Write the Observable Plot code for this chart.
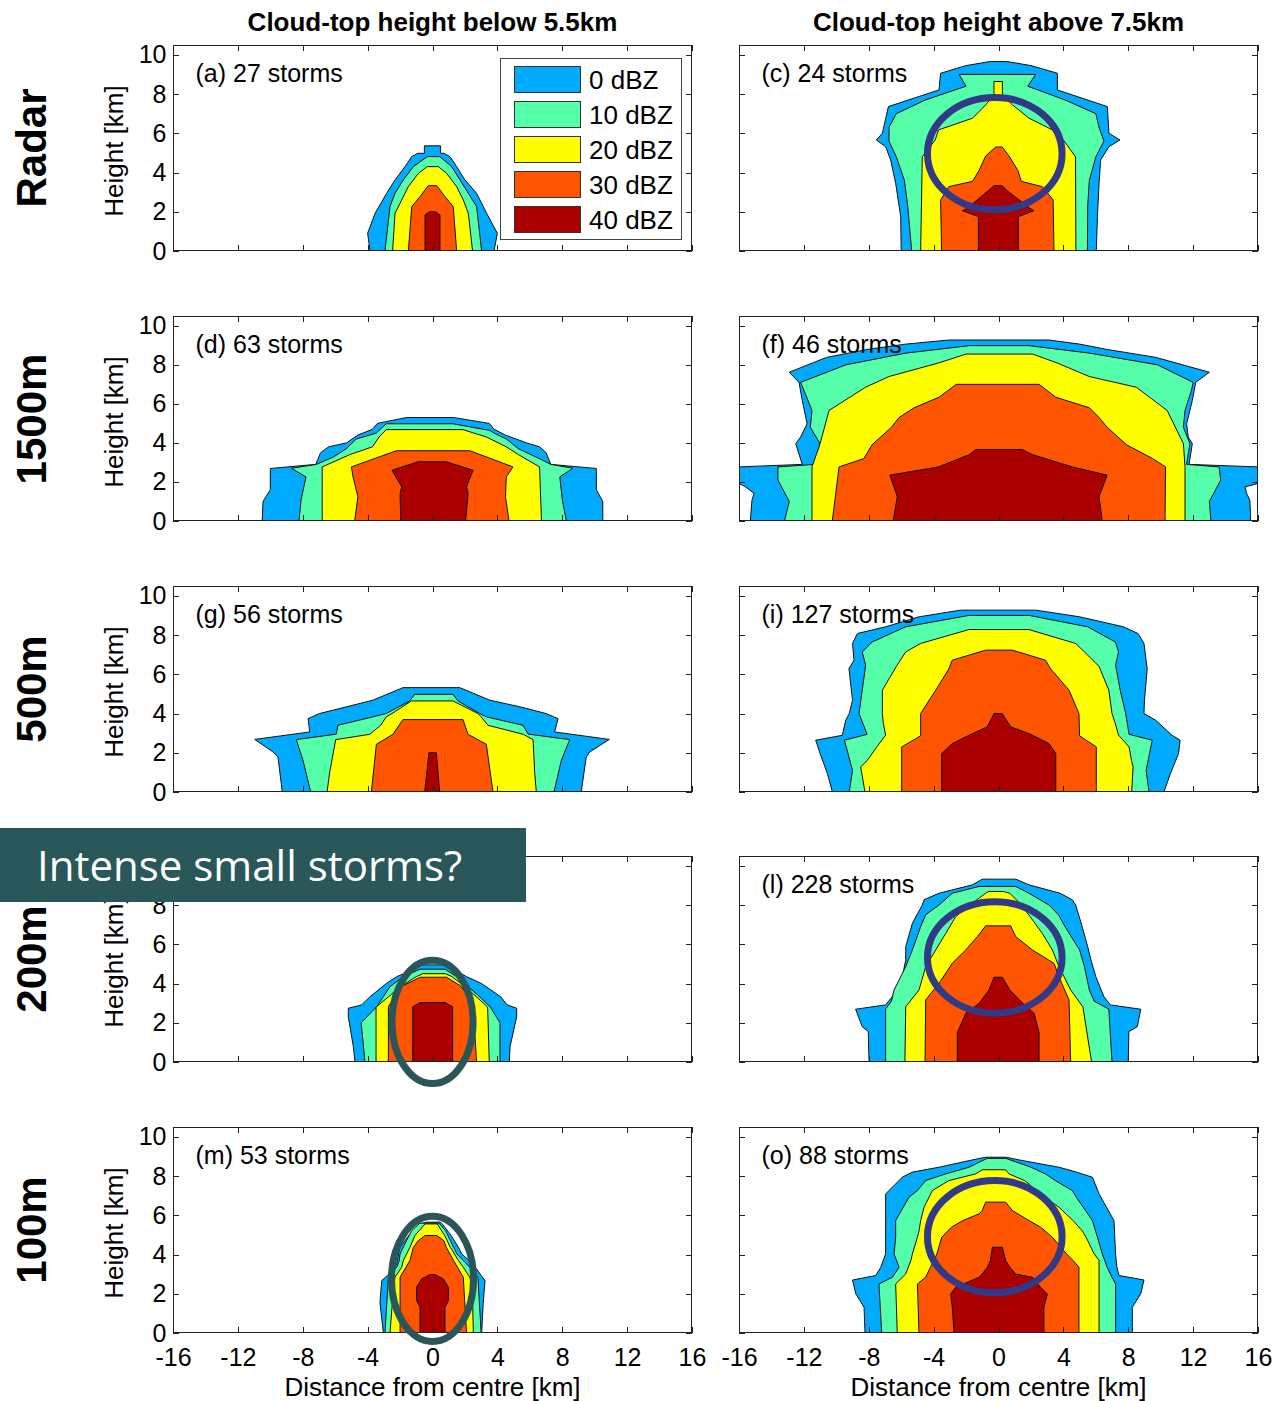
<!DOCTYPE html>
<html><head><meta charset="utf-8">
<script src="https://cdn.jsdelivr.net/npm/d3@7"></script>
<script src="https://cdn.jsdelivr.net/npm/@observablehq/plot@0.6"></script>
<style>
body{margin:0;background:#fff;}
#root{position:relative;width:1276px;height:1401px;overflow:hidden;font-family:"Liberation Sans",Arial,sans-serif;color:#000;}
.abs{position:absolute;white-space:nowrap;}
.rot{transform:translate(-50%,-50%) rotate(-90deg);}
.ctr{transform:translate(-50%,-50%);}
</style></head><body><div id="root"></div>
<script>
// ---------- data ----------
const levels = ["0 dBZ","10 dBZ","20 dBZ","30 dBZ","40 dBZ"];
const levelColors = ["#00aaff","#55ffaa","#ffff00","#ff5500","#aa0000"];
const columnTitles = ["Cloud-top height below 5.5km","Cloud-top height above 7.5km"];
const rowLabels = ["Radar","1500m","500m","200m","100m"];
const xTicks = [-16,-12,-8,-4,0,4,8,12,16];
const yTicks = [0,2,4,6,8,10];
const panelLabels = ["(a) 27 storms","(c) 24 storms","(d) 63 storms","(f) 46 storms","(g) 56 storms","(i) 127 storms","","(l) 228 storms","(m) 53 storms","(o) 88 storms"];
const yLabel = "Height [km]";
const xLabel = "Distance from centre [km]";
const boxText = "Intense small storms?";

// each contour: [height km, left edge km, right edge km], levels 0,10,20,30,40 dBZ
const panelA = [
  [[0,-3.85,3.79],[0.9,-4.0,4.0],[1.92,-3.54,3.34],[2.94,-2.83,2.72],[3.62,-2.31,2.0],[4.3,-1.7,1.49],[4.81,-1.28,1.08],[4.98,-0.9,0.7],[4.98,-0.5,0.5],[5.36,-0.5,0.5]],
  [[0,-2.93,3.03],[2.26,-2.62,2.72],[2.94,-2.31,2.21],[3.62,-1.8,1.7],[4.3,-1.18,1.18],[4.81,-0.32,0.46]],
  [[0,-2.46,2.47],[1.92,-2.31,2.21],[2.6,-1.9,1.9],[3.28,-1.49,1.49],[3.96,-0.87,0.87],[4.3,-0.32,0.36]],
  [[0,-1.49,1.49],[2.26,-1.28,1.28],[2.77,-0.77,0.77],[3.33,-0.26,0.26]],
  [[0,-0.46,0.46],[1.84,-0.46,0.46],[2.0,-0.2,0.2]]
];
const panelC = [
  [[0,-6.0,6.03],[1.75,-6.03,6.1],[3.45,-6.34,6.2],[4.64,-6.65,6.3],[5.32,-6.96,6.81],[5.66,-7.53,7.49],[6.0,-7.16,6.81],[7.36,-6.79,6.71],[8.21,-3.67,3.63],[9.06,-3.57,3.63],[9.45,-2.0,2.0],[9.66,-0.5,0.5]],
  [[0,-5.35,5.48],[2.3,-5.6,5.5],[3.6,-5.8,5.6],[4.8,-6.3,6.0],[5.6,-6.75,6.5],[6.3,-6.75,6.2],[7.0,-6.3,6.0],[7.7,-4.5,4.1],[8.4,-2.0,1.8],[9.0,-2.43,2.29]],
  [[0,-4.8,4.77],[4.8,-4.7,4.75],[5.66,-3.9,4.0],[6.17,-3.7,3.33],[6.77,-1.6,1.88],[7.45,-0.79,0.86],[7.96,-0.28,0.24],[8.64,-0.28,0.24]],
  [[0,-3.51,3.42],[2.6,-3.57,3.37],[3.28,-3.06,2.7],[3.55,-1.6,1.4],[4.1,-1.2,1.2],[4.84,-0.79,0.65],[5.3,-0.17,0.23]],
  [[0,-1.24,1.22],[1.75,-1.24,1.22],[2.05,-2.22,2.18],[2.2,-1.9,1.9],[3.1,-0.6,0.5],[3.33,-0.27,0.23]]
];
const panelD = [
  [[0,-10.5,10.5],[1.0,-10.45,10.5],[1.6,-10.0,10.1],[2.69,-10.0,10.1],[2.9,-7.2,7.3],[3.5,-6.9,7.0],[3.8,-6.4,6.6],[4.0,-5.3,5.8],[4.4,-4.6,4.5],[4.7,-3.7,3.8],[5.0,-3.4,3.5],[5.3,-1.6,1.3]],
  [[0,-8.23,8.25],[1.1,-8.1,8.0],[2.26,-7.8,7.85],[2.7,-8.7,8.66],[2.9,-7.16,7.3],[3.27,-6.13,6.4],[3.7,-5.31,5.3],[4.2,-4.7,4.55],[4.5,-3.47,3.8],[4.64,-3.3,3.53],[4.98,-2.85,1.26]],
  [[0,-6.8,6.72],[2.77,-6.8,6.6],[3.4,-5.1,5.3],[3.8,-3.7,4.55],[4.3,-3.3,3.33],[4.68,-2.85,1.88]],
  [[0,-4.8,4.72],[1.25,-4.6,4.5],[2.26,-4.9,4.55],[2.77,-5.0,4.96],[3.6,-2.23,2.3]],
  [[0,-1.96,2.04],[1.4,-2.0,2.2],[1.75,-1.9,2.1],[2.6,-2.5,2.5],[3.03,-0.89,0.86]]
];
const panelF = [
  [[0,-15.3,15.55],[1.07,-15.2,15.5],[1.41,-15.07,15.3],[1.75,-15.6,15.2],[1.92,-16,16],[2.77,-16,16],[2.9,-12.1,11.75],[3.96,-12.5,11.95],[4.3,-12.2,11.7],[4.98,-11.8,11.6],[6.17,-12.1,11.95],[7.1,-12.3,12.16],[7.62,-12.9,13.0],[8.38,-10.6,9.7],[8.8,-8.0,6.6],[9.06,-5.72,5.0],[9.27,-3.05,3.11]],
  [[0,-13.2,13.1],[1.0,-12.9,13.0],[2.1,-13.6,13.7],[2.77,-13.6,13.6],[2.9,-11.3,11.6],[3.96,-11.0,11.8],[4.8,-11.6,11.4],[5.66,-11.5,11.5],[6.7,-12.0,11.9],[7.1,-12.2,12.0],[8.0,-9.4,9.8],[8.6,-5.7,5.6],[8.98,-1.8,1.88]],
  [[0,-11.5,11.5],[2.77,-11.5,11.5],[3.96,-11.0,11.4],[5.66,-10.45,10.4],[6.85,-8.2,8.5],[7.4,-6.75,5.6],[8.1,-3.67,3.6],[8.55,-2.0,2.1]],
  [[0,-10.25,10.27],[2.77,-9.83,10.3],[3.2,-8.3,9.5],[3.9,-7.8,7.9],[4.8,-6.6,6.7],[5.3,-6.13,6.2],[5.8,-5.2,5.6],[6.34,-3.67,3.53],[7.0,-2.6,2.5]],
  [[0,-6.5,6.4],[1.25,-6.24,6.2],[2.35,-6.7,6.7],[2.77,-3.7,4.55],[3.4,-1.8,2.1],[3.66,-1.4,1.47]]
];
const panelG = [
  [[0,-9.26,9.17],[1.79,-9.53,9.48],[2.04,-9.83,9.69],[2.68,-10.96,10.9],[3.06,-7.57,7.53],[3.74,-7.67,7.74],[4.0,-6.96,7.0],[4.34,-5.31,5.4],[4.68,-3.67,3.53],[5.32,-1.82,1.68]],
  [[0,-7.51,7.49],[1.6,-7.98,7.94],[2.67,-8.4,8.46],[2.95,-5.93,5.9],[3.4,-5.83,5.58],[3.83,-3.67,3.32],[4.0,-2.85,2.9],[4.64,-1.41,1.57],[4.98,-1.1,1.26]],
  [[0,-6.5,6.4],[1.0,-6.34,6.3],[2.67,-5.97,6.2],[2.94,-3.87,5.6],[3.4,-3.2,3.42],[3.83,-2.85,3.0],[4.0,-2.5,2.8],[4.64,-1.3,1.26]],
  [[0,-3.77,3.73],[2.43,-3.46,3.32],[2.94,-2.44,2.19],[3.69,-1.82,1.88]],
  [[0,-0.48,0.44],[2.0,-0.22,0.24]]
];
const panelI = [
  [[0,-10.24,10.2],[0.94,-10.55,10.6],[1.96,-11.0,11.1],[2.64,-11.27,11.2],[2.89,-9.63,10.7],[3.66,-9.42,9.69],[4.0,-9.2,8.97],[4.68,-9.0,9.0],[6.29,-9.22,9.17],[6.72,-8.91,9.1],[7.57,-9.0,8.97],[8.08,-8.7,8.6],[8.42,-6.96,7.7],[8.93,-4.9,5.0],[9.27,-2.33,2.29]],
  [[0,-9.2,9.28],[1.1,-9.0,9.1],[2.64,-9.5,9.48],[2.94,-8.1,8.05],[4.0,-8.6,7.84],[5.2,-8.4,7.5],[6.46,-8.19,7.22],[7.14,-8.4,7.4],[7.65,-7.78,7.2],[8.42,-5.72,5.5],[9.0,-1.82,1.88]],
  [[0,-8.23,8.21],[1.28,-8.5,8.3],[1.6,-8.1,8.2],[2.3,-7.5,8.05],[2.9,-6.96,7.4],[3.49,-7.1,7.2],[4.0,-7.16,7.0],[5.19,-7.16,6.8],[6.4,-6.3,6.2],[7.14,-5.72,5.3],[7.57,-4.8,4.76],[8.28,-1.82,1.88]],
  [[0,-5.97,6.03],[2.3,-5.97,6.03],[2.86,-4.8,5.0],[4.0,-4.8,4.96],[5.19,-3.87,4.35],[6.29,-3.05,3.2],[6.72,-2.85,2.9],[7.23,-0.79,0.85]],
  [[0,-3.5,3.53],[1.96,-3.5,3.53],[2.47,-2.85,3.11],[2.98,-1.6,1.88],[3.32,-0.69,0.75],[4.0,-0.28,0.23]]
];
const panelJ = [
  [[0,-4.78,4.74],[0.78,-4.88,4.78],[2.31,-5.19,5.19],[2.74,-5.19,5.19],[2.91,-4.37,4.6],[3.33,-3.85,4.2],[4.01,-2.83,3.0],[4.35,-2.21,2.1],[4.78,-0.98,1.2],[4.95,-0.98,0.87]],
  [[0,-4.16,4.16],[2.0,-4.4,4.16],[2.82,-3.44,3.55],[3.33,-3.03,2.9],[3.84,-2.62,2.2],[4.35,-1.8,1.49],[4.73,-0.77,0.77]],
  [[0,-3.48,3.5],[2.8,-3.48,3.4],[3.33,-2.7,2.7],[3.84,-2.0,2.0],[4.35,-1.0,1.2],[4.5,-0.6,0.8]],
  [[0,-2.72,2.72],[2.82,-2.72,2.5],[3.5,-2.2,2.1],[3.9,-1.8,1.7],[4.32,-0.75,0.87]],
  [[0,-1.22,1.24],[2.82,-1.22,1.24],[3.03,-0.77,0.77]]
];
const panelL = [
  [[0,-7.98,8.0],[1.55,-8.03,8.04],[1.8,-8.4,8.56],[2.69,-8.81,8.77],[2.91,-6.96,6.9],[3.33,-6.55,6.5],[4.35,-5.93,6.0],[5.2,-5.72,5.7],[5.88,-5.72,5.5],[7.07,-5.31,5.1],[8.0,-4.7,4.76],[8.27,-4.59,4.55],[8.6,-3.67,3.8],[9.03,-1.61,1.88],[9.32,-1.0,1.06]],
  [[0,-6.96,7.0],[2.7,-6.96,6.8],[3.1,-6.6,5.9],[3.67,-6.44,5.6],[4.86,-5.72,5.3],[5.71,-5.31,5.0],[6.9,-4.8,4.1],[7.5,-4.49,3.7],[8.0,-3.67,3.11],[8.6,-2.85,1.88],[8.95,-1.2,1.06]],
  [[0,-5.77,5.74],[2.82,-5.72,5.2],[3.67,-4.9,4.45],[4.86,-4.49,3.73],[5.71,-3.87,3.32],[6.56,-3.25,2.7],[7.41,-2.64,1.95],[8.1,-1.61,1.3],[8.6,-0.79,0.7],[8.69,-0.6,0.3]],
  [[0,-4.53,4.45],[3.16,-4.49,4.35],[4.01,-3.67,3.9],[5.03,-2.85,3.42],[5.71,-2.02,2.09],[6.39,-1.3,1.06],[6.94,-0.79,0.75]],
  [[0,-2.54,2.5],[1.5,-2.54,2.5],[2.48,-2.02,2.2],[2.99,-1.2,1.5],[3.67,-0.59,0.7],[4.32,-0.28,0.24]]
];
const panelM = [
  [[0,-3.03,3.03],[1.56,-3.24,3.13],[2.67,-3.13,3.24],[2.93,-2.78,3.0],[3.52,-2.21,2.5],[4.03,-2.1,1.8],[4.37,-2.0,1.6],[5.05,-1.39,1.08],[5.56,-0.77,0.6],[5.65,-0.36,0.46]],
  [[0,-2.93,3.0],[2.84,-2.72,2.8],[3.35,-2.21,2.3],[3.69,-2.05,1.9],[4.03,-2.0,1.5],[4.71,-1.6,1.1],[5.22,-1.28,0.8],[5.6,-0.77,0.4]],
  [[0,-2.62,2.52],[2.33,-2.4,2.45],[2.84,-2.31,2.3],[3.35,-1.9,1.9],[3.69,-1.8,1.6],[4.37,-1.39,1.1],[4.97,-1.08,0.75],[5.56,-0.46,0.3]],
  [[0,-2.0,2.1],[2.84,-2.0,1.9],[3.69,-1.39,1.3],[4.37,-1.18,0.85],[4.71,-0.87,0.7],[4.97,-0.46,0.26]],
  [[0,-0.77,0.77],[1.31,-0.77,0.77],[1.65,-0.98,0.98],[2.33,-0.98,0.98],[2.76,-0.67,0.67],[2.98,-0.15,0.15]]
];
const panelO = [
  [[0,-8.23,8.25],[1.31,-8.29,8.25],[2.0,-8.8,8.77],[2.7,-9.0,8.97],[2.93,-7.57,7.43],[3.35,-7.26,7.3],[4.03,-6.96,7.22],[5.73,-6.96,7.12],[7.09,-6.96,6.2],[7.94,-5.93,5.79],[8.2,-5.31,4.8],[8.45,-3.67,3.73],[8.79,-1.8,1.47],[8.96,-0.79,0.44]],
  [[0,-7.2,7.22],[2.5,-7.37,7.22],[2.84,-6.54,7.0],[3.35,-6.13,6.7],[4.03,-6.44,6.4],[4.88,-6.34,6.1],[5.73,-6.34,5.79],[6.92,-5.52,4.8],[7.26,-5.0,4.55],[7.77,-4.49,3.5],[8.11,-3.25,2.9],[8.45,-1.82,2.0],[8.9,-0.7,0.45]],
  [[0,-6.24,6.2],[2.5,-6.34,6.2],[3.01,-5.72,6.2],[3.7,-5.4,6.2],[4.03,-5.31,5.9],[4.88,-5.0,5.4],[5.2,-4.9,5.17],[5.73,-4.8,4.6],[6.41,-4.59,3.73],[7.26,-4.08,2.3],[7.6,-3.4,1.88],[7.77,-3.05,1.6],[8.11,-1.41,0.65],[8.32,-1.0,0.44]],
  [[0,-4.9,4.96],[2.5,-5.0,4.96],[2.84,-4.49,4.96],[3.35,-4.2,4.96],[3.69,-3.97,4.6],[4.03,-3.8,4.2],[4.88,-3.5,3.32],[5.39,-2.9,2.6],[5.73,-2.2,1.88],[6.07,-1.2,1.2],[6.24,-1.0,0.85],[6.67,-0.79,0.44]],
  [[0,-2.74,2.8],[1.31,-2.85,2.8],[1.99,-2.95,3.01],[2.33,-2.64,2.6],[2.84,-1.2,2.09],[3.01,-1.0,1.06],[3.35,-0.69,0.7],[3.69,-0.5,0.44],[4.37,-0.38,0.24]]
];
// highlight ellipses: [centre x km, centre height km, x radius km, height radius km]
const ellipseC = [-0.23, 4.96, 4.15, 2.86];
const ellipseJ = [0, 2.04, 2.5, 3.14];
const ellipseL = [-0.23, 5.33, 4.15, 2.84];
const ellipseM = [0, 2.76, 2.53, 3.19];
const ellipseO = [-0.23, 4.91, 4.15, 2.86];

// ---------- layout ----------
const root = document.getElementById("root");
const colLeft = [173, 739];
const rowTop = [45, 316, 586, 856, 1127];
const rowH = [206, 205, 206, 206, 206];
const frameW = 519;
const ML = 110, MR = 30, MT = 20, MB = 80;
const blueEllipse = "#323a87", tealEllipse = "#2a5659";

const panels = [
  {data: panelA, row: 0, col: 0, label: panelLabels[0], ell: null},
  {data: panelC, row: 0, col: 1, label: panelLabels[1], ell: ellipseC, ec: blueEllipse},
  {data: panelD, row: 1, col: 0, label: panelLabels[2], ell: null},
  {data: panelF, row: 1, col: 1, label: panelLabels[3], ell: null},
  {data: panelG, row: 2, col: 0, label: panelLabels[4], ell: null},
  {data: panelI, row: 2, col: 1, label: panelLabels[5], ell: null},
  {data: panelJ, row: 3, col: 0, label: panelLabels[6], ell: ellipseJ, ec: tealEllipse, hideTop: true},
  {data: panelL, row: 3, col: 1, label: panelLabels[7], ell: ellipseL, ec: blueEllipse},
  {data: panelM, row: 4, col: 0, label: panelLabels[8], ell: ellipseM, ec: tealEllipse},
  {data: panelO, row: 4, col: 1, label: panelLabels[9], ell: ellipseO, ec: blueEllipse}
];

function frameTicks(index, scales, values, dims) {
  const g = d3.create("svg:g").attr("fill", "none").attr("stroke", "#222").attr("stroke-width", 1);
  const l = dims.marginLeft, r = dims.width - dims.marginRight, t = dims.marginTop, b = dims.height - dims.marginBottom;
  const L = 6;
  for (const v of xTicks) {
    const px = Math.round(scales.x(v)) + 0.5;
    g.append("path").attr("d", `M${px},${b}v${-L}M${px},${t}v${L}`);
  }
  for (const v of yTicks) {
    const py = Math.round(scales.y(v)) + 0.5;
    g.append("path").attr("d", `M${l},${py}h${L}M${r},${py}h${-L}`);
  }
  g.append("rect").attr("x", l + 0.5).attr("y", t + 0.5).attr("width", r - l - 1).attr("height", b - t - 1);
  return g.node();
}
function ellipseMark(e, color) {
  return (index, scales) => {
    const cx = scales.x(e[0]), cy = scales.y(e[1]);
    const rx = Math.abs(scales.x(e[0] + e[2]) - cx), ry = Math.abs(scales.y(e[1] + e[3]) - cy);
    return d3.create("svg:ellipse").attr("cx", cx).attr("cy", cy).attr("rx", rx).attr("ry", ry)
      .attr("fill", "none").attr("stroke", color).attr("stroke-width", 7).node();
  };
}

for (const p of panels) {
  const marks = [];
  p.data.forEach((poly, i) => {
    marks.push(Plot.areaX(poly, {y: d => d[0], x1: d => d[1], x2: d => d[2], fill: levelColors[i], stroke: "#111", strokeWidth: 1, strokeLinejoin: "miter", clip: true}));
  });
  marks.push(frameTicks);
  // the top tick label of the 200m row sits under the annotation box in the original
  const yt = p.col === 0 ? (p.hideTop ? yTicks.filter(v => v < 10) : yTicks) : [];
  marks.push(Plot.axisY({ticks: yt, tickSize: 0, tickPadding: 7, label: null, tickFormat: d => String(d)}));
  marks.push(Plot.axisX({ticks: p.row === 4 ? xTicks : [], tickSize: 0, tickPadding: 15, label: null, tickFormat: d => String(d)}));
  if (p.label) marks.push(Plot.text([p.label], {frameAnchor: "top-left", dx: 22, dy: 28, textAnchor: "start", lineAnchor: "middle", fontSize: 25, fill: "#000"}));
  if (p.ell) marks.push(ellipseMark(p.ell, p.ec));
  const h = rowH[p.row];
  const svg = Plot.plot({
    width: frameW + ML + MR, height: h + MT + MB,
    marginLeft: ML, marginRight: MR, marginTop: MT, marginBottom: MB,
    x: {domain: [-16, 16]}, y: {domain: [0, 10.5]},
    style: {background: "transparent", overflow: "visible", fontFamily: '"Liberation Sans", Arial, sans-serif', fontSize: "25px", color: "#000"},
    marks
  });
  svg.style.position = "absolute";
  svg.style.left = (colLeft[p.col] - ML) + "px";
  svg.style.top = (rowTop[p.row] - MT) + "px";
  root.appendChild(svg);
}

function addDiv(text, css, cls) {
  const d = document.createElement("div");
  d.className = "abs " + (cls || "");
  d.textContent = text;
  Object.assign(d.style, css);
  root.appendChild(d);
  return d;
}
// column titles
columnTitles.forEach((t, c) => addDiv(t, {left: (colLeft[c] + frameW / 2) + "px", top: "22px", fontSize: "26px", fontWeight: "bold"}, "ctr"));
// row labels and y labels
rowLabels.forEach((t, r) => {
  const cy = rowTop[r] + rowH[r] / 2;
  addDiv(t, {left: "32px", top: cy + "px", fontSize: "42px", fontWeight: "bold"}, "rot");
  addDiv(yLabel, {left: "114px", top: (cy + 3) + "px", fontSize: "26px"}, "rot");
});
// x labels
[0, 1].forEach(c => addDiv(xLabel, {left: (colLeft[c] + frameW / 2) + "px", top: "1387px", fontSize: "26px"}, "ctr"));

// legend (inside panel a)
const leg = document.createElement("div");
leg.className = "abs";
Object.assign(leg.style, {left: "500px", top: "58px", width: "182px", height: "182px", border: "1px solid #444", background: "#fff", boxSizing: "border-box"});
levels.forEach((lv, i) => {
  const sw = document.createElement("div");
  Object.assign(sw.style, {position: "absolute", left: "13px", top: (7 + 35 * i) + "px", width: "67px", height: "27px", background: levelColors[i], border: "1px solid #333", boxSizing: "border-box"});
  leg.appendChild(sw);
  const tx = document.createElement("div");
  tx.textContent = lv;
  Object.assign(tx.style, {position: "absolute", left: "88px", top: (7 + 35 * i + 13.5) + "px", transform: "translateY(-50%)", fontSize: "26px", whiteSpace: "nowrap"});
  leg.appendChild(tx);
});
root.appendChild(leg);

// annotation box
addDiv(boxText, {left: "0px", top: "828px", width: "526px", height: "74px", background: "#29575a", color: "#fff", fontFamily: '"Open Sans", sans-serif', fontSize: "42px", lineHeight: "74px", paddingLeft: "37px", boxSizing: "border-box"});
</script></body></html>
